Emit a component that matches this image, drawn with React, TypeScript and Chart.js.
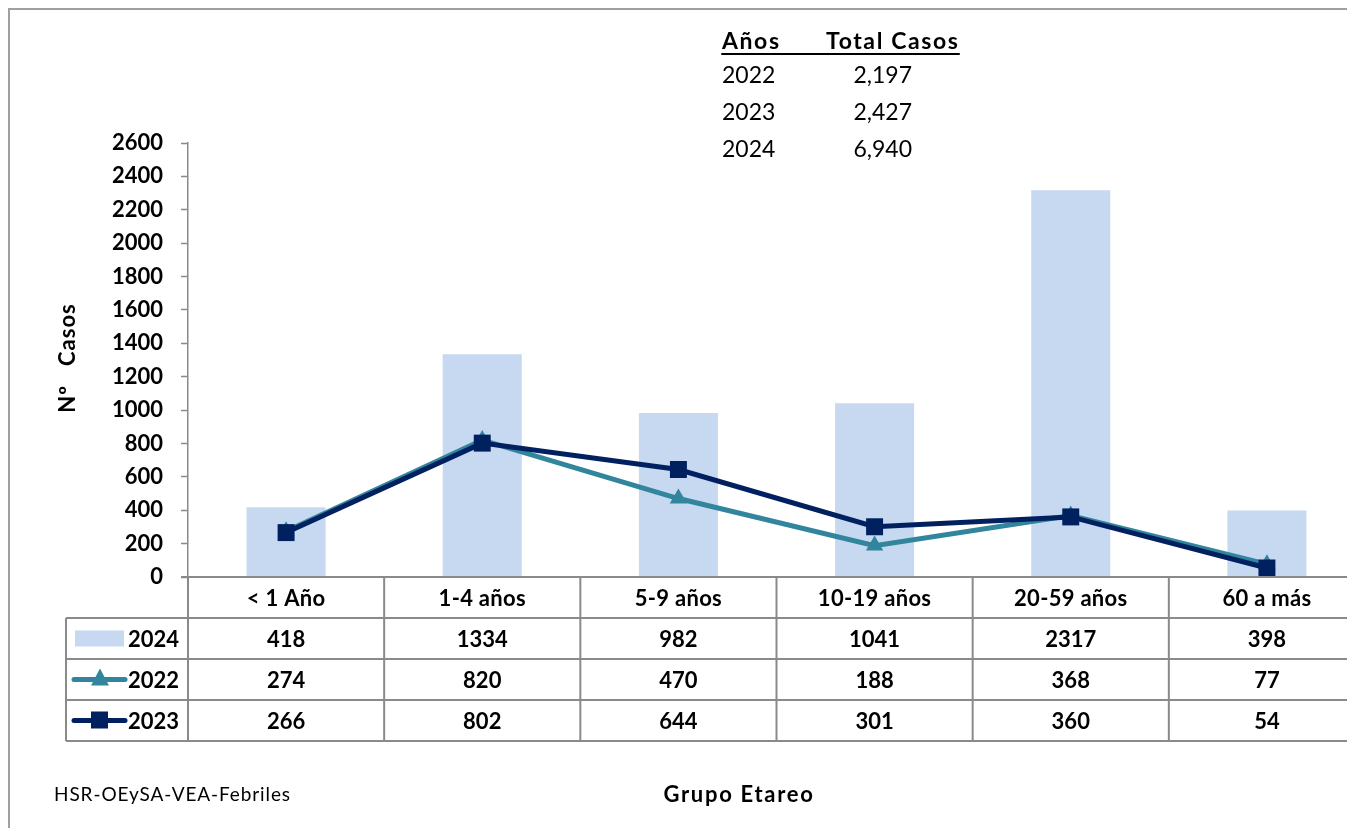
import React, { useEffect, useRef } from "react";
import { Chart, registerables } from "chart.js";

Chart.register(...registerables);

const categories = ["< 1 Año", "1-4 años", "5-9 años", "10-19 años", "20-59 años", "60 a más"];
const cases2024 = [418, 1334, 982, 1041, 2317, 398];
const cases2022 = [274, 820, 470, 188, 368, 77];
const cases2023 = [266, 802, 644, 301, 360, 54];
const totalYears = ["2022", "2023", "2024"];
const totalCases = ["2,197", "2,427", "6,940"];
const yMax = 2600;
const yStep = 200;

const COLOR_2024 = "#C6D9F1";
const COLOR_2022 = "#31859C";
const COLOR_2023 = "#002060";
const GRID = "#8a8a8a";
const FONT = "Lato, 'Open Sans', sans-serif";

const W = 1420;
const H = 860;

const tableRows = [
  { label: "2024", data: cases2024, kind: "bar", color: COLOR_2024 },
  { label: "2022", data: cases2022, kind: "triangle", color: COLOR_2022 },
  { label: "2023", data: cases2023, kind: "square", color: COLOR_2023 },
];

const decorPlugin = {
  id: "decor",
  afterDraw(chart: any) {
    const ctx = chart.ctx as any;
    const { left, right, bottom } = chart.chartArea;
    const xs = chart.scales.x;
    const n = categories.length;
    const colW = (right - left) / n;
    const rowH = 41;
    const legLeft = 58;
    ctx.save();

    // outer border (left + top)
    ctx.strokeStyle = "#a0a0a0";
    ctx.lineWidth = 2;
    ctx.beginPath();
    ctx.moveTo(1, H);
    ctx.lineTo(1, 1);
    ctx.lineTo(W, 1);
    ctx.stroke();

    // table grid
    ctx.strokeStyle = GRID;
    ctx.lineWidth = 2;
    ctx.beginPath();
    ctx.moveTo(left - 7, bottom);
    ctx.lineTo(right + 40, bottom);
    for (let k = 1; k <= 4; k++) {
      ctx.moveTo(legLeft, bottom + rowH * k);
      ctx.lineTo(right + 40, bottom + rowH * k);
    }
    for (let i = 0; i <= n; i++) {
      const x = left + i * colW;
      ctx.moveTo(x, bottom);
      ctx.lineTo(x, bottom + rowH * 4);
    }
    ctx.moveTo(legLeft, bottom + rowH);
    ctx.lineTo(legLeft, bottom + rowH * 4);
    ctx.stroke();

    // header & values
    ctx.fillStyle = "#000";
    ctx.font = `bold 22px ${FONT}`;
    ctx.letterSpacing = "0.3px";
    ctx.textAlign = "center";
    ctx.textBaseline = "middle";
    categories.forEach((c, i) => {
      ctx.fillText(c, xs.getPixelForValue(i), bottom + rowH / 2 + 1);
    });
    ctx.letterSpacing = "0px";
    tableRows.forEach((row, r) => {
      const cy = bottom + rowH * (r + 1) + rowH / 2 + 1;
      row.data.forEach((v, i) => {
        ctx.fillText(String(v), xs.getPixelForValue(i), cy);
      });
      // legend key
      ctx.textAlign = "right";
      ctx.fillText(row.label, left - 9, cy);
      ctx.textAlign = "center";
      if (row.kind === "bar") {
        ctx.fillStyle = row.color;
        ctx.fillRect(67, cy - 9, 49, 16);
        ctx.fillStyle = "#000";
      } else {
        ctx.strokeStyle = row.color;
        ctx.lineWidth = 5;
        ctx.lineCap = "round";
        ctx.beginPath();
        ctx.moveTo(66, cy - 1);
        ctx.lineTo(117, cy - 1);
        ctx.stroke();
        ctx.fillStyle = row.color;
        if (row.kind === "triangle") {
          ctx.beginPath();
          ctx.moveTo(92, cy - 12);
          ctx.lineTo(101, cy + 5);
          ctx.lineTo(83, cy + 5);
          ctx.closePath();
          ctx.fill();
        } else {
          ctx.fillRect(83, cy - 10, 17, 17);
        }
        ctx.fillStyle = "#000";
      }
    });

    // y axis title
    ctx.save();
    ctx.translate(60, 350);
    ctx.rotate(-Math.PI / 2);
    ctx.font = `bold 22px ${FONT}`;
    ctx.letterSpacing = "1px";
    ctx.textAlign = "center";
    ctx.textBaseline = "middle";
    ctx.fillText("Nº   Casos", 0, 0);
    ctx.restore();

    // x axis title & source
    ctx.font = `bold 22px ${FONT}`;
    ctx.letterSpacing = "1.7px";
    ctx.textAlign = "center";
    ctx.fillText("Grupo Etareo", 731, 787);
    ctx.font = `19px ${FONT}`;
    ctx.letterSpacing = "0.9px";
    ctx.textAlign = "left";
    ctx.fillText("HSR-OEySA-VEA-Febriles", 46, 787);

    // totals box
    ctx.font = `bold 23px ${FONT}`;
    ctx.letterSpacing = "1.6px";
    ctx.textAlign = "left";
    ctx.fillText("Años", 714, 34);
    ctx.fillText("Total Casos", 818, 34);
    ctx.letterSpacing = "0px";
    ctx.lineWidth = 2;
    ctx.strokeStyle = "#000";
    ctx.beginPath();
    ctx.moveTo(714, 46);
    ctx.lineTo(951, 46);
    ctx.stroke();
    ctx.font = `23px ${FONT}`;
    totalYears.forEach((y, i) => {
      const cy = 68 + i * 37;
      ctx.textAlign = "left";
      ctx.fillText(y, 714, cy);
      ctx.textAlign = "right";
      ctx.fillText(totalCases[i], 904, cy);
    });

    ctx.restore();
  },
};

export default function App() {
  const ref = useRef<HTMLCanvasElement | null>(null);
  useEffect(() => {
    if (!ref.current) return;
    const chart = new Chart(ref.current, {
      type: "bar",
      data: {
        labels: categories,
        datasets: [
          {
            type: "bar",
            label: "2024",
            data: cases2024,
            backgroundColor: COLOR_2024,
            categoryPercentage: 1,
            barPercentage: 0.403,
            order: 3,
          },
          {
            type: "line",
            label: "2022",
            data: cases2022,
            borderColor: COLOR_2022,
            backgroundColor: COLOR_2022,
            borderWidth: 5,
            pointStyle: "triangle",
            pointRadius: 10,
            pointBorderWidth: 0,
            tension: 0,
            order: 2,
          },
          {
            type: "line",
            label: "2023",
            data: cases2023,
            borderColor: COLOR_2023,
            backgroundColor: COLOR_2023,
            borderWidth: 5,
            pointStyle: "rect",
            pointRadius: 12,
            pointBorderWidth: 0,
            tension: 0,
            order: 1,
          },
        ],
      },
      options: {
        responsive: false,
        animation: false,
        devicePixelRatio: 1,
        events: [],
        layout: { padding: { left: 60, top: 135, right: 63, bottom: 291 } },
        plugins: { legend: { display: false }, tooltip: { enabled: false }, title: { display: false } },
        scales: {
          x: { display: false, offset: true },
          y: {
            min: 0,
            max: yMax,
            afterFit: (s: any) => {
              s.width = 120;
            },
            ticks: {
              stepSize: yStep,
              padding: 18,
              color: "#000",
              font: { family: FONT, size: 22, weight: "bold" },
              callback: (v: any) => String(v),
            },
            grid: { display: true, drawOnChartArea: false, drawTicks: true, tickLength: 7, tickColor: GRID, tickWidth: 1.5 },
            border: { display: true, color: GRID, width: 1.5 },
          },
        },
      },
      plugins: [decorPlugin],
    } as any);
    return () => chart.destroy();
  }, []);
  return (
    <div style={{ width: 1347, height: 828, marginBottom: -8, overflow: "hidden", position: "relative" }}>
      <canvas ref={ref} width={W} height={H} style={{ width: W, height: H, display: "block" }} />
    </div>
  );
}
